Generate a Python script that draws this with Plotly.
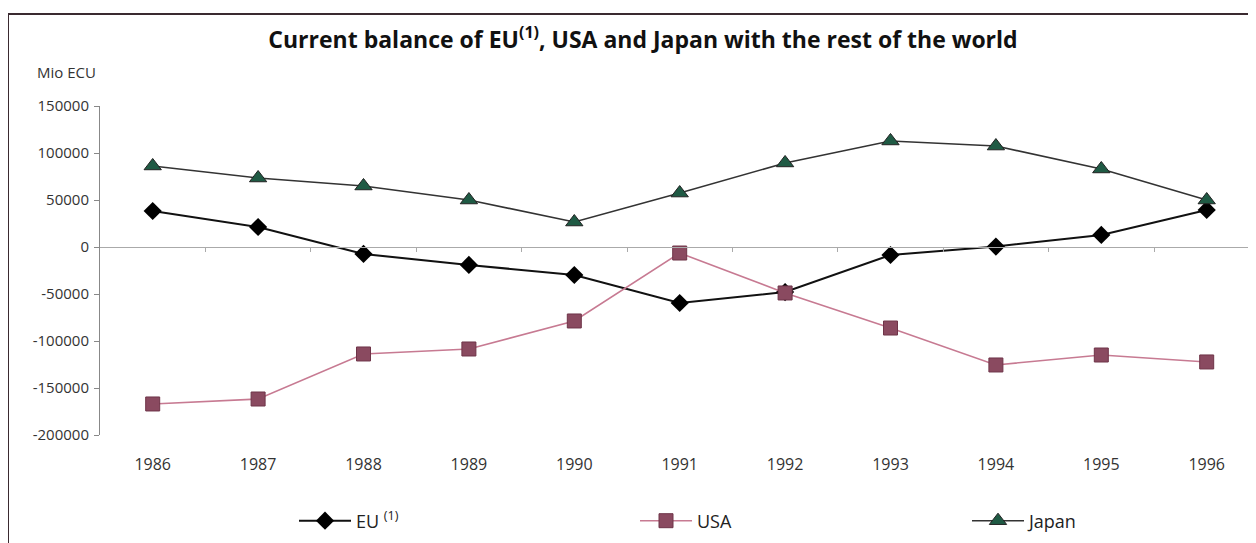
import plotly.graph_objects as go

years = [1986, 1987, 1988, 1989, 1990, 1991, 1992, 1993, 1994, 1995, 1996]
eu = [38300, 21300, -7400, -19100, -29800, -59600, -47900, -8500, 500, 12800, 39400]
usa = [-167000, -161700, -113800, -108500, -78700, -6400, -48900, -86200, -125500, -114900, -122300]
japan = [86200, 73400, 64900, 50000, 26600, 57400, 89400, 112800, 107400, 83000, 50000]
y_ticks = [150000, 100000, 50000, 0, -50000, -100000, -150000, -200000]
y_tick_labels = ["150000", "100000", "50000", "0", "-50000", "-100000", "-150000", "-200000"]

OFF = 8  # page body margin
W, H = 1256 - OFF, 543 - OFF
SL, ST, SB = 100, 106, 435
L, T = SL - OFF, ST - OFF
B = H - (SB - OFF)
R = 0
pw, ph = W - L - R, H - T - B

def px(x):  # screen x -> paper
    return (x - SL) / pw

def py(y):  # screen y -> paper
    return (SB - y) / ph

leg_font = dict(size=18, color="#222222", family="Open Sans, sans-serif")

fig = go.Figure()
fig.add_trace(go.Scatter(x=years, y=eu, name="EU <sup>(1)</sup>", mode="lines+markers",
                         line=dict(color="#111111", width=2),
                         marker=dict(symbol="diamond", size=14, color="#000000"),
                         legend="legend"))
fig.add_trace(go.Scatter(x=years, y=usa, name="USA", mode="lines+markers",
                         line=dict(color="#c77a92", width=1.6),
                         marker=dict(symbol="square", size=14, color="#8a4a60",
                                     line=dict(color="#6e3448", width=1)),
                         legend="legend2"))
fig.add_trace(go.Scatter(x=years, y=japan, name="Japan", mode="lines+markers",
                         line=dict(color="#333333", width=1.6),
                         marker=dict(symbol="triangle-up", size=15, color="#1f5a44",
                                     line=dict(color="#222222", width=1)),
                         legend="legend3"))
fig.add_trace(go.Scatter(x=[years[0]], y=[0], xaxis="x2", mode="markers",
                         marker=dict(opacity=0), showlegend=False, hoverinfo="skip"))

def leg(xs):
    return dict(orientation="h", x=px(xs), xanchor="left", y=py(521), yanchor="middle",
                font=leg_font, bgcolor="rgba(0,0,0,0)", itemwidth=52)

xr = [1985.5, 1985.5 + (1256 - SL) / 105.4]
fig.update_layout(
    width=W, height=H,
    margin=dict(l=L, r=R, t=T, b=B, pad=0),
    paper_bgcolor="white", plot_bgcolor="white",
    font=dict(family="Open Sans, Noto Sans, sans-serif", color="#333333", size=15),
    title=dict(text="<b>Current balance of EU<sup>(1)</sup>, USA and Japan with the rest of the world</b>",
               x=(643 - OFF) / W, xanchor="center", y=1 - (40 - OFF) / H, yanchor="middle",
               font=dict(size=23, color="#111111")),
    xaxis=dict(range=xr, tickvals=years, ticktext=[str(y) for y in years],
               showgrid=False, zeroline=False, showline=False, ticks="",
               tickfont=dict(size=16, color="#333333"), ticklabelstandoff=18),
    xaxis2=dict(range=xr, overlaying="x", anchor="free", position=py(247),
                showgrid=False, zeroline=False, showline=True, linecolor="#aaaaaa", linewidth=1,
                ticks="outside", ticklen=4, tickcolor="#aaaaaa",
                tickvals=[y + 0.5 for y in years[:-1]], showticklabels=False),
    yaxis=dict(range=[-200000, 150000], tickvals=y_ticks, ticktext=y_tick_labels,
               showgrid=False, zeroline=False,
               showline=True, linecolor="#888888", linewidth=1,
               ticks="outside", ticklen=5, tickcolor="#888888",
               tickfont=dict(size=15, color="#333333"), ticklabelstandoff=2),
    legend=leg(294),
    legend2=leg(635),
    legend3=leg(967),
    showlegend=True,
)
fig.add_annotation(text="Mio ECU", xref="paper", yref="paper", x=px(35), y=py(72),
                   xanchor="left", yanchor="middle", showarrow=False,
                   font=dict(size=15, color="#333333"))
fig.add_shape(type="rect", xref="paper", yref="paper", x0=px(8), y0=py(560), x1=px(1270), y1=py(14),
              line=dict(color="#3a2a30", width=2), layer="below")

fig.write_html("out.html")
